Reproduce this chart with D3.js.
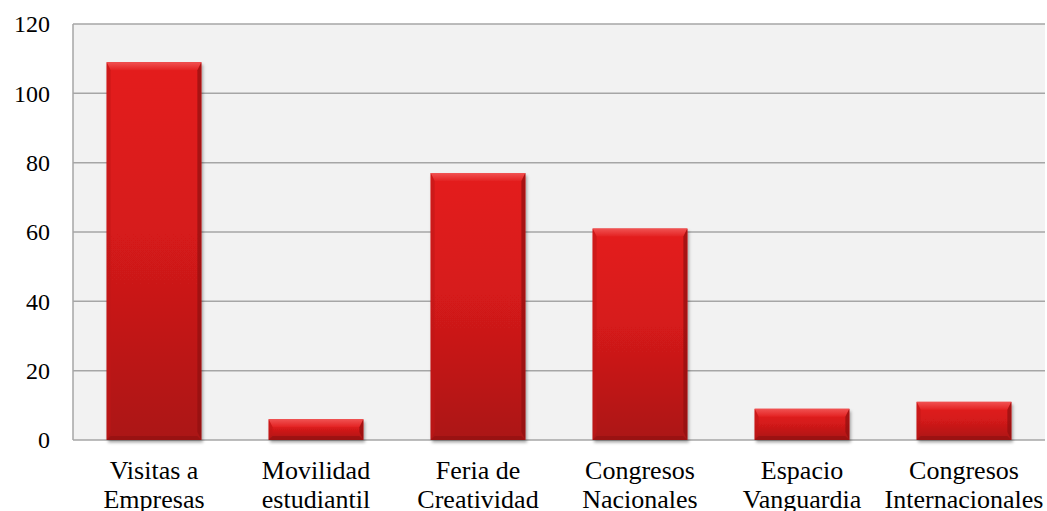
<!DOCTYPE html>
<html>
<head>
<meta charset="utf-8">
<script src="https://cdn.jsdelivr.net/npm/d3@7"></script>
</head>
<body style="margin:0; background:#fff">
<div id="chart"></div>
<script>
const categories = [
  ["Visitas a", "Empresas"],
  ["Movilidad", "estudiantil"],
  ["Feria de", "Creatividad"],
  ["Congresos", "Nacionales"],
  ["Espacio", "Vanguardia"],
  ["Congresos", "Internacionales"]
];
const values = [109, 6, 77, 61, 9, 11];
const yTicks = [0, 20, 40, 60, 80, 100, 120];

const FONT = "Liberation Serif";

const margin = { top: 24, right: 2, bottom: 71, left: 73 };
const width = 1047 - margin.left - margin.right;
const height = 511 - margin.top - margin.bottom;

const svg = d3.select("#chart")
  .append("svg")
  .attr("width", width + margin.left + margin.right)
  .attr("height", height + margin.top + margin.bottom);

const defs = svg.append("defs");
const grad = defs.append("linearGradient")
  .attr("id", "barGrad")
  .attr("x1", 0).attr("y1", 0).attr("x2", 0).attr("y2", 1);
grad.append("stop").attr("offset", "0%").attr("stop-color", "#e41b1b");
grad.append("stop").attr("offset", "45%").attr("stop-color", "#d61a1a");
grad.append("stop").attr("offset", "100%").attr("stop-color", "#ab1616");

const topGrad = defs.append("linearGradient")
  .attr("id", "topGrad")
  .attr("x1", 0).attr("y1", 0).attr("x2", 0).attr("y2", 1);
topGrad.append("stop").attr("offset", "0%").attr("stop-color", "#f25858");
topGrad.append("stop").attr("offset", "100%").attr("stop-color", "#e42222");

const shadow = defs.append("filter").attr("id", "shadow")
  .attr("x", "-10%").attr("y", "-10%").attr("width", "130%").attr("height", "130%");
shadow.append("feDropShadow")
  .attr("dx", 1.5).attr("dy", 2.5).attr("stdDeviation", 1.8)
  .attr("flood-color", "#000").attr("flood-opacity", 0.35);

const chart = svg.append("g")
  .attr("transform", "translate(" + margin.left + "," + margin.top + ")");

const x = d3.scaleBand()
  .domain(d3.range(categories.length))
  .range([0, width])
  .paddingInner(0.415)
  .paddingOuter(0.2075);

const y = d3.scaleLinear().domain([0, 120]).range([height, 0]);

// plot background
chart.append("rect")
  .attr("width", width)
  .attr("height", height)
  .attr("fill", "#f2f2f2");

// gridlines
chart.append("g")
  .selectAll("line")
  .data(yTicks)
  .join("line")
  .attr("x1", 0)
  .attr("x2", width)
  .attr("y1", d => y(d))
  .attr("y2", d => y(d))
  .attr("stroke", "#a6a6a6")
  .attr("stroke-width", 1.5);

// left axis line
chart.append("line")
  .attr("x1", 0).attr("x2", 0)
  .attr("y1", 0).attr("y2", height)
  .attr("stroke", "#a6a6a6")
  .attr("stroke-width", 1.5);

// y labels
const yAxis = chart.append("g")
  .call(d3.axisLeft(y).tickValues(yTicks).tickSize(0).tickPadding(23))
  .attr("font-family", FONT)
  .attr("font-size", 24);
yAxis.select(".domain").remove();
yAxis.selectAll("text")
  .attr("font-family", FONT)
  .attr("font-size", 24)
  .attr("fill", "#000");

// bars
const bev = 8;
const side = 4;
const bars = chart.append("g")
  .selectAll("g")
  .data(values)
  .join("g")
  .attr("transform", (d, i) => "translate(" + x(i) + "," + y(d) + ")");

bars.append("rect")
  .attr("width", x.bandwidth())
  .attr("height", d => height - y(d))
  .attr("fill", "url(#barGrad)")
  .attr("filter", "url(#shadow)");

// top bevel
bars.append("path")
  .attr("d", d => {
    const w = x.bandwidth();
    const b = Math.min(bev, (height - y(d)) / 2);
    return `M0,0 L${w},0 L${w - side},${b} L${side},${b} Z`;
  })
  .attr("fill", "url(#topGrad)")
  .attr("opacity", 0.9);

// left bevel
bars.append("path")
  .attr("d", d => {
    const h = height - y(d);
    const b = Math.min(bev, h / 2);
    return `M0,0 L${side},${b} L${side},${h - b} L0,${h} Z`;
  })
  .attr("fill", "#c01818")
  .attr("opacity", 0.6);

// right bevel
bars.append("path")
  .attr("d", d => {
    const w = x.bandwidth();
    const h = height - y(d);
    const b = Math.min(bev, h / 2);
    return `M${w},0 L${w - side},${b} L${w - side},${h - b} L${w},${h} Z`;
  })
  .attr("fill", "#8e1010")
  .attr("opacity", 0.7);

// bottom bevel
bars.append("path")
  .attr("d", d => {
    const w = x.bandwidth();
    const h = height - y(d);
    const b = Math.min(bev, h / 2) * 0.5;
    return `M0,${h} L${side},${h - b} L${w - side},${h - b} L${w},${h} Z`;
  })
  .attr("fill", "#8e1010")
  .attr("opacity", 0.6);

// x labels
const xl = chart.append("g")
  .selectAll("text")
  .data(categories)
  .join("text")
  .attr("x", (d, i) => x(i) + x.bandwidth() / 2)
  .attr("y", height + 39)
  .attr("text-anchor", "middle")
  .attr("font-family", FONT)
  .attr("font-size", 26)
  .attr("fill", "#000");

xl.selectAll("tspan")
  .data(d => d)
  .join("tspan")
  .attr("x", function () { return this.parentNode.getAttribute("x"); })
  .attr("dy", (d, i) => i === 0 ? 0 : 28.5)
  .text(d => d);
</script>
</body>
</html>
